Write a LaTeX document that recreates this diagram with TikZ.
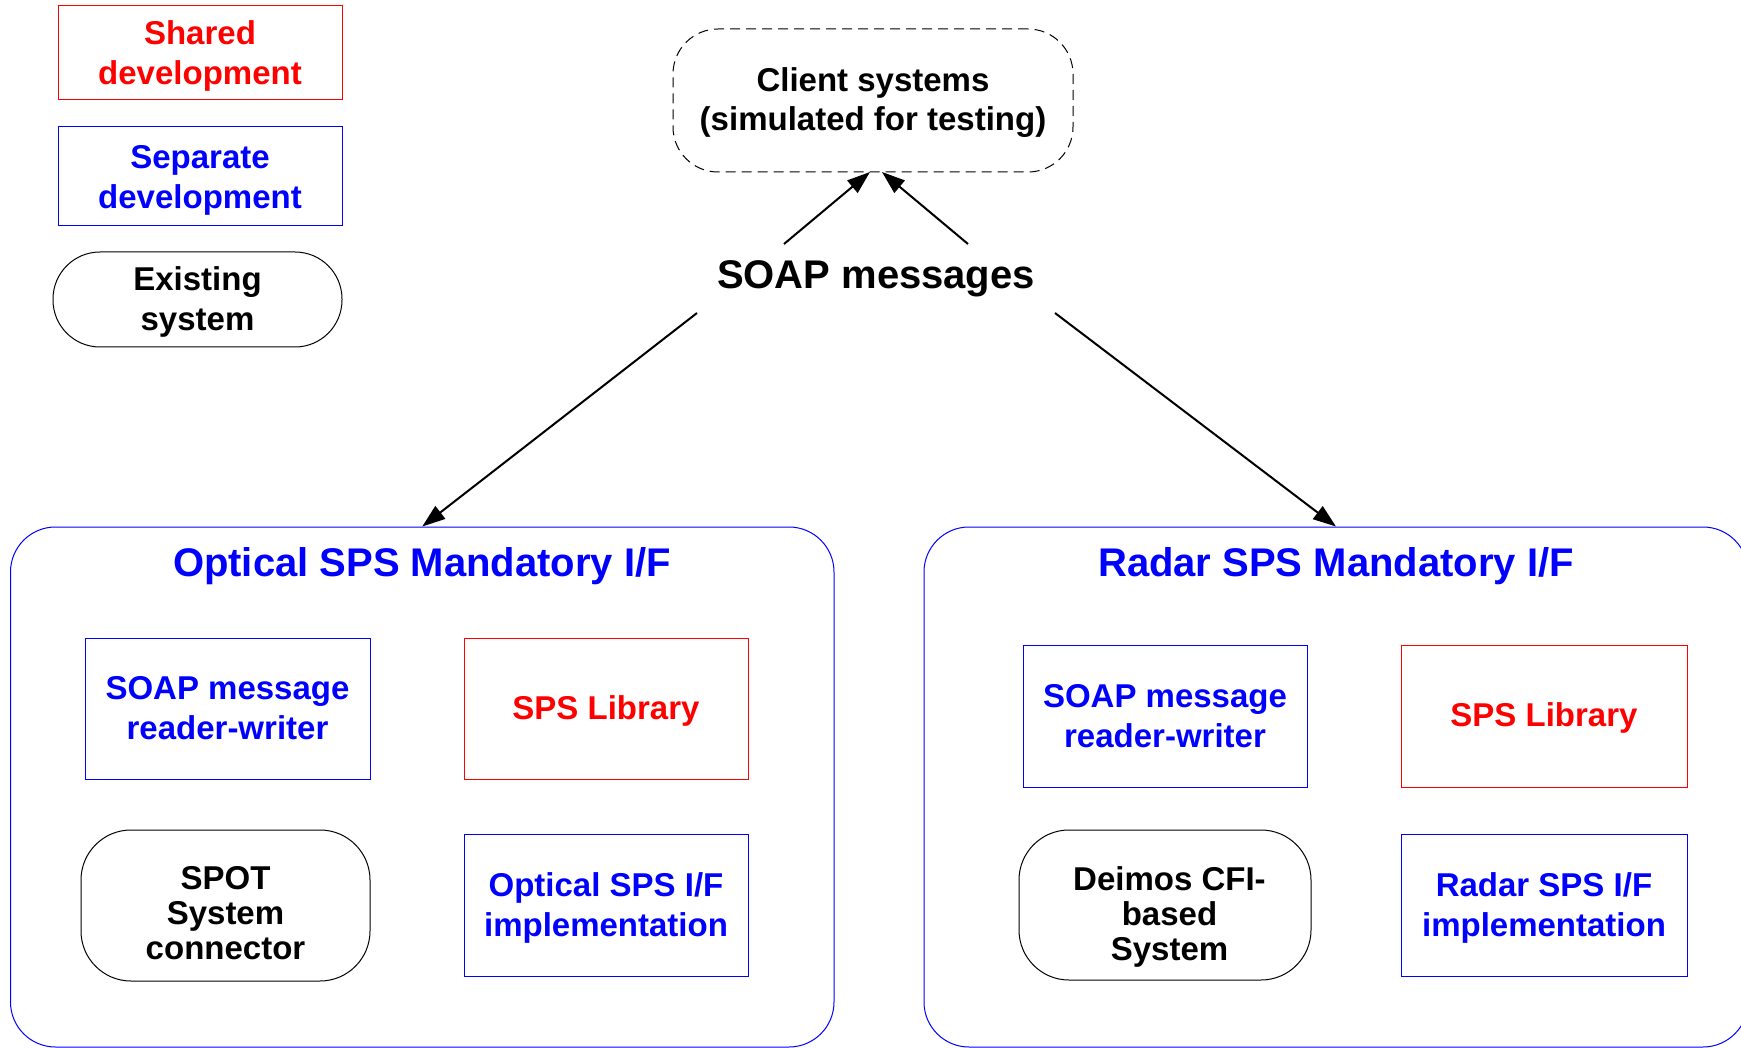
\documentclass[tikz,border=0pt]{standalone}
\usepackage{fontspec}
\setmainfont{Liberation Sans}
\usetikzlibrary{arrows.meta,calc}
\definecolor{myred}{RGB}{255,0,0}
\definecolor{myblue}{RGB}{0,0,255}
\newcommand{\dn}[1]{\rule{0pt}{#1}}
\begin{document}
\begin{tikzpicture}[x=1pt,y=-1pt,
  base/.style={inner sep=0pt,outer sep=0pt,align=center,font=\bfseries\fontsize{33}{40}\selectfont},
  sharedbox/.style={base,draw=myred,text=myred,line width=1pt},
  sepbox/.style={base,draw=myblue,text=myblue,line width=1pt},
  existbox/.style={base,draw=black,text=black,line width=1pt,font=\bfseries\fontsize{33}{35}\selectfont},
  container/.style={draw=myblue,line width=1pt,rounded corners=45pt,inner sep=0pt},
  title/.style={inner sep=0pt,text=myblue,font=\bfseries\fontsize{40}{46}\selectfont},
  arr/.style={line width=2pt,-{Triangle[length=23pt,width=16pt]}}
]
\useasboundingbox (0,0) rectangle (1741,1048);
\fill[white] (0,0) rectangle (1741,1048);

% legend
\node[sharedbox,minimum width=284pt,minimum height=94pt] (lshared) at (200,53) {\dn{30pt}Shared\\development};
\node[sepbox,minimum width=284pt,minimum height=99pt] (lsep) at (200,176.5) {\dn{30pt}Separate\\development};
\node[existbox,font=\bfseries\fontsize{33}{40}\selectfont,rounded corners=47pt,minimum width=289pt,minimum height=95pt] (lexist) at (197.5,299.5) {\dn{29pt}Existing\\system};

% client
\node[base,draw=black,dash pattern=on 10pt off 6pt,line width=1pt,rounded corners=45pt,
      font=\bfseries\fontsize{33}{39}\selectfont,minimum width=400pt,minimum height=143pt] (client) at (873,100.5)
      {\dn{28pt}Client systems\\(simulated for testing)};

% soap messages
\node[base,font=\bfseries\fontsize{40}{46}\selectfont,minimum width=358pt,minimum height=69pt] (soap) at (876,278.5) {SOAP messages};

% containers
\node[container,minimum width=823.5pt,minimum height=520pt] (optical) at (422.25,787) {};
\node[container,minimum width=824pt,minimum height=520pt] (radar) at (1336,787) {};
\node[title] (otitle) at (422,566) {Optical SPS Mandatory I/F};
\node[title] (rtitle) at (1336,566) {Radar SPS Mandatory I/F};

% optical inner
\node[sepbox,minimum width=285pt,minimum height=141pt] (osoap) at (227.5,708.5) {SOAP message\\reader-writer};
\node[sharedbox,minimum width=284pt,minimum height=141pt] (olib) at (606,708.5) {\dn{28pt}SPS Library};
\node[existbox,rounded corners=50pt,minimum width=289pt,minimum height=151pt] (ospot) at (225.5,905.5) {\dn{38pt}SPOT\\System\\connector};
\node[sepbox,minimum width=284pt,minimum height=142pt] (oimpl) at (606,905) {\dn{30pt}Optical SPS I/F\\implementation};

% radar inner
\node[sepbox,minimum width=284pt,minimum height=142pt] (rsoap) at (1165,716) {SOAP message\\reader-writer};
\node[sharedbox,minimum width=286pt,minimum height=142pt] (rlib) at (1544,716) {\dn{28pt}SPS Library};
\node[existbox,rounded corners=50pt,minimum width=292pt,minimum height=150pt] (rdeimos) at (1165,905)
  {\dn{48pt}\hspace*{9pt}Deimos CFI-\\\hspace*{9pt}based\\\hspace*{9pt}System};
\node[sepbox,minimum width=286pt,minimum height=142pt] (rimpl) at (1544,905) {\dn{30pt}Radar SPS I/F\\implementation};

% arrows
\draw[arr] ([xshift=-92pt]soap.north) -- ([xshift=-3pt]client.south);
\draw[arr] ([xshift=92pt]soap.north) -- ([xshift=9pt]client.south);
\draw[arr] (soap.south west) -- (optical.north);
\draw[arr] (soap.south east) -- (radar.north);
\end{tikzpicture}
\end{document}
